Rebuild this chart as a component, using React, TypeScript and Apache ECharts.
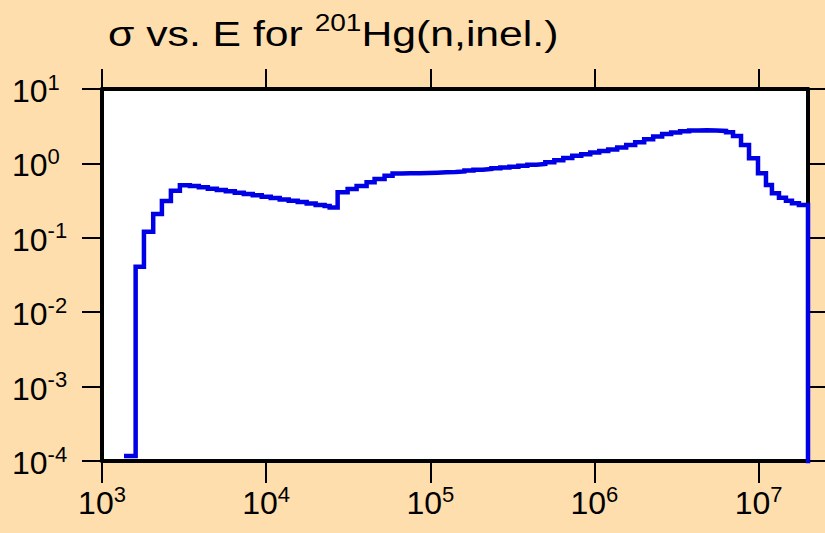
import React, { useEffect, useRef } from "react";
import * as echarts from "echarts";

// Bin lower edges (eV); the last entry is the upper edge of the last bin.
const energyEdges = [
  1361, 1603, 1801, 2051, 2317, 2629, 2982, 3430, 3890, 4413, 5006, 5679, 6442, 7308, 8288, 9402,
  10665, 12097, 13728, 15570, 17660, 20030, 22720, 24370, 27260, 31360, 35570, 40920, 45770, 52660,
  58900, 66800, 75800, 85990, 97500, 110600, 125500, 142300, 161400, 183200, 207800, 235700, 267300,
  303300, 344000, 390200, 442600, 502000, 569500, 646000, 732800, 831200, 942900, 1069500, 1213400,
  1376000, 1561000, 1771000, 2009000, 2279000, 2585000, 2933000, 3326000, 3773000, 4280000, 4855000,
  5508000, 6333000, 6987000, 7816000, 8744000, 9917000, 11090000, 12060000, 13310000, 14680000,
  15970000, 17610000, 20000000,
];

// Cross section (barns) in each bin.
const crossSection = [
  1.17e-4, 0.0409, 0.121, 0.209, 0.313, 0.43, 0.508, 0.497, 0.478, 0.457, 0.439, 0.422, 0.404, 0.388,
  0.372, 0.357, 0.343, 0.327, 0.315, 0.303, 0.289, 0.276, 0.268, 0.256, 0.409, 0.453, 0.497, 0.557,
  0.617, 0.684, 0.731, 0.736, 0.739, 0.743, 0.75, 0.76, 0.767, 0.779, 0.803, 0.823, 0.841, 0.86, 0.881,
  0.904, 0.931, 0.961, 0.981, 1.035, 1.101, 1.183, 1.265, 1.325, 1.401, 1.468, 1.538, 1.636, 1.768,
  1.921, 2.109, 2.3, 2.485, 2.603, 2.701, 2.769, 2.786, 2.769, 2.726, 2.618, 2.335, 1.768, 1.171, 0.736,
  0.512, 0.396, 0.346, 0.315, 0.291, 0.276,
];

// value after the last edge (cross section ends: drawn off the bottom of the plot)
const tailValue = 1e-6;

const xRange = [1e3, 2e7];
const xTickRange = [1e3, 1e7];
const yRange = [1e-4, 10];

const titleMain = "σ vs. E for ";
const titleSup = "201";
const titleTail = "Hg(n,inel.)";

export default function App() {
  const ref = useRef<HTMLDivElement>(null);

  useEffect(() => {
    const chart = echarts.init(ref.current!, null, { renderer: "svg" });
    const font = "Liberation Sans";
    const rich = {
      b: { fontSize: 32, fontFamily: font, color: "#000", lineHeight: 36, verticalAlign: "bottom" },
      e: { fontSize: 22, fontFamily: font, color: "#000", lineHeight: 22, verticalAlign: "top" },
    };
    const fmt = (v: number) => `{b|10}{e|${Math.round(Math.log10(v))}}`;
    const data = energyEdges.map((e, i) => [e, i < crossSection.length ? crossSection[i] : tailValue]);

    const left = 102, top = 89, width = 706, height = 372;
    const tickWidth =
      (width * (Math.log10(xTickRange[1]) - Math.log10(xTickRange[0]))) /
      (Math.log10(xRange[1]) - Math.log10(xRange[0]));

    const line = { show: true, lineStyle: { color: "#000", width: 4 } };
    const tick = (len: number) => ({ show: true, inside: false, length: len, lineStyle: { color: "#000", width: 2 } });

    chart.setOption({
      animation: false,
      backgroundColor: "#FFDEAD",
      grid: [
        { left, top, width, height, show: true, backgroundColor: "#ffffff", borderWidth: 0 },
        { left, top, width: tickWidth, height, show: false },
      ],
      xAxis: [
        { gridIndex: 0, type: "log", logBase: 10, min: xRange[0], max: xRange[1], position: "bottom",
          axisLine: line, axisTick: { show: false }, axisLabel: { show: false }, splitLine: { show: false } },
        { gridIndex: 0, type: "log", logBase: 10, min: xRange[0], max: xRange[1], position: "top",
          axisLine: line, axisTick: { show: false }, axisLabel: { show: false }, splitLine: { show: false } },
        { gridIndex: 1, type: "log", logBase: 10, min: xTickRange[0], max: xTickRange[1], position: "bottom",
          axisLine: { show: false }, axisTick: tick(22), splitLine: { show: false },
          axisLabel: { show: true, formatter: fmt, rich, margin: 22 } },
        { gridIndex: 1, type: "log", logBase: 10, min: xTickRange[0], max: xTickRange[1], position: "top",
          axisLine: { show: false }, axisTick: tick(20), splitLine: { show: false }, axisLabel: { show: false } },
      ],
      yAxis: [
        { gridIndex: 0, type: "log", logBase: 10, min: yRange[0], max: yRange[1], position: "left",
          axisLine: line, axisTick: tick(20), splitLine: { show: false },
          axisLabel: { show: true, formatter: fmt, rich, align: "left", margin: 90 } },
        { gridIndex: 0, type: "log", logBase: 10, min: yRange[0], max: yRange[1], position: "right",
          axisLine: line, axisTick: tick(20), splitLine: { show: false }, axisLabel: { show: false } },
        { gridIndex: 1, type: "log", logBase: 10, min: yRange[0], max: yRange[1], show: false },
      ],
      series: [
        {
          type: "line",
          xAxisIndex: 0,
          yAxisIndex: 0,
          data,
          step: "end",
          showSymbol: false,
          symbol: "none",
          clip: true,
          silent: true,
          lineStyle: { color: "#0000e6", width: 4.5, join: "miter", cap: "butt" },
          z: 1,
        },
      ],
      graphic: [
        {
          type: "text",
          x: 108,
          y: 11,
          scaleX: 1.22,
          style: {
            text: `{a|${titleMain}}{s|${titleSup}}{a|${titleTail}}`,
            fill: "#000",
            rich: {
              a: { fontSize: 35, fontFamily: font, fill: "#000", lineHeight: 40, verticalAlign: "bottom" },
              s: { fontSize: 23, fontFamily: font, fill: "#000", lineHeight: 22, verticalAlign: "top" },
            },
          },
        },
      ],
    });
    return () => chart.dispose();
  }, []);

  return (
    <div
      ref={ref}
      style={{ position: "fixed", left: 0, top: 0, width: 825, height: 533, background: "#FFDEAD" }}
    />
  );
}
